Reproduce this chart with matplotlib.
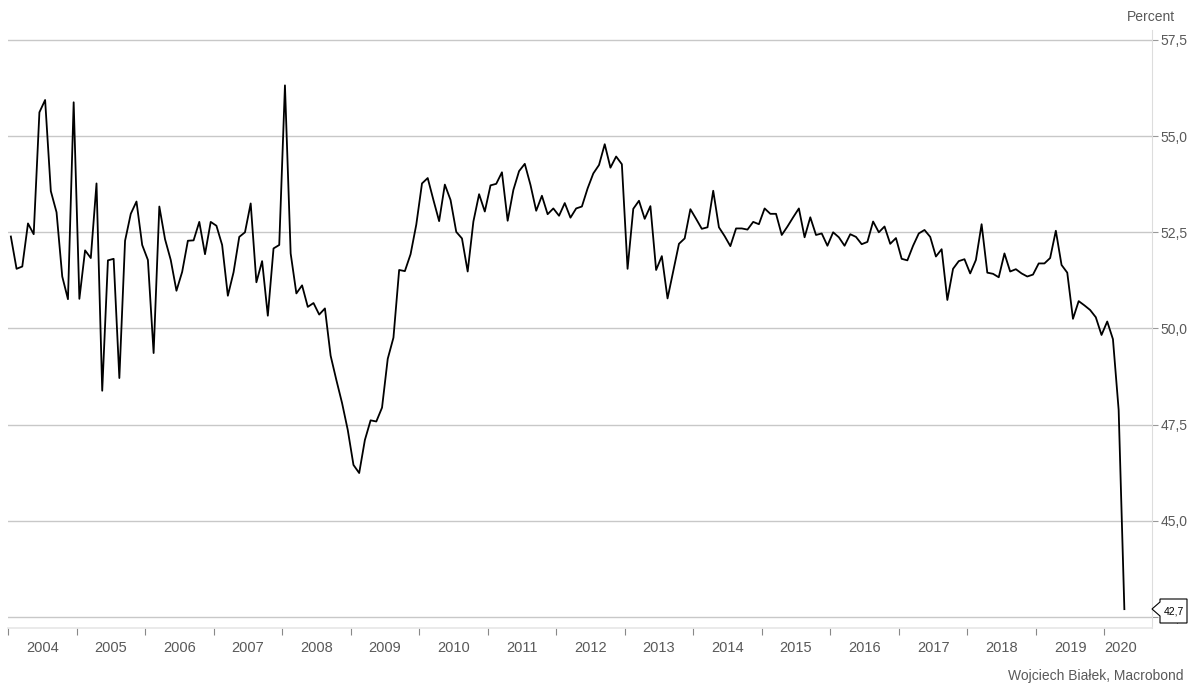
import matplotlib
matplotlib.use("Agg")
import matplotlib.pyplot as plt
from matplotlib.patches import Polygon
import numpy as np

plt.rcParams["font.family"] = ["Liberation Sans", "DejaVu Sans"]

# Monthly readings, Jan 2004 - Apr 2020
values_2004 = [52.39, 51.55, 51.61, 52.73, 52.45, 55.62, 55.94, 53.57, 53.02, 51.35, 50.76, 55.88]
values_2005 = [50.77, 52.03, 51.83, 53.77, 48.38, 51.77, 51.81, 48.71, 52.28, 52.98, 53.30, 52.17]
values_2006 = [51.78, 49.36, 53.17, 52.32, 51.78, 50.98, 51.47, 52.28, 52.29, 52.77, 51.93, 52.77]
values_2007 = [52.67, 52.17, 50.85, 51.46, 52.38, 52.50, 53.25, 51.20, 51.75, 50.33, 52.08, 52.17]
values_2008 = [56.32, 51.95, 50.91, 51.12, 50.56, 50.66, 50.36, 50.52, 49.29, 48.66, 48.06, 47.36]
values_2009 = [46.45, 46.24, 47.10, 47.61, 47.58, 47.94, 49.21, 49.76, 51.52, 51.49, 51.93, 52.70]
values_2010 = [53.77, 53.91, 53.34, 52.79, 53.74, 53.34, 52.51, 52.34, 51.48, 52.78, 53.49, 53.04]
values_2011 = [53.72, 53.76, 54.06, 52.80, 53.60, 54.09, 54.28, 53.73, 53.06, 53.45, 52.97, 53.12]
values_2012 = [52.93, 53.26, 52.88, 53.12, 53.17, 53.64, 54.03, 54.25, 54.79, 54.18, 54.47, 54.27]
values_2013 = [51.55, 53.11, 53.32, 52.85, 53.18, 51.52, 51.88, 50.78, 51.49, 52.20, 52.34, 53.10]
values_2014 = [52.85, 52.59, 52.63, 53.58, 52.63, 52.40, 52.14, 52.60, 52.60, 52.57, 52.77, 52.71]
values_2015 = [53.12, 52.98, 52.98, 52.43, 52.65, 52.89, 53.12, 52.37, 52.89, 52.43, 52.47, 52.15]
values_2016 = [52.50, 52.37, 52.15, 52.45, 52.38, 52.19, 52.25, 52.78, 52.50, 52.65, 52.20, 52.35]
values_2017 = [51.81, 51.77, 52.15, 52.47, 52.56, 52.38, 51.87, 52.06, 50.74, 51.55, 51.75, 51.80]
values_2018 = [51.43, 51.78, 52.71, 51.45, 51.42, 51.33, 51.95, 51.48, 51.54, 51.43, 51.35, 51.40]
values_2019 = [51.69, 51.69, 51.83, 52.54, 51.65, 51.45, 50.25, 50.71, 50.60, 50.48, 50.29, 49.83]
values_2020 = [50.18, 49.72, 47.88, 42.70]

years = list(range(2004, 2021))
y_ticks = [42.5, 45.0, 47.5, 50.0, 52.5, 55.0, 57.5]

values = (values_2004 + values_2005 + values_2006 + values_2007 + values_2008
          + values_2009 + values_2010 + values_2011 + values_2012 + values_2013
          + values_2014 + values_2015 + values_2016 + values_2017 + values_2018
          + values_2019 + values_2020)
# month centres as decimal years
dates = 2004 + (np.arange(len(values)) + 0.5) / 12.0

W, H = 1195, 686
fig = plt.figure(figsize=(W / 100, H / 100), dpi=100)
ax = fig.add_axes([8 / W, 1 - 628 / H, (1152 - 8) / W, (628 - 30) / H])

grey = "#c8c8c8"
text_grey = "#595959"

ax.plot(dates, values, color="black", linewidth=1.3, zorder=3)

ax.set_xlim(2004, 2020.695)
ax.set_ylim(42.21, 57.76)

# y axis on the right, comma decimals
ax.yaxis.tick_right()
ax.set_yticks(y_ticks)
ax.set_yticklabels([f"{t:.1f}".replace(".", ",") for t in y_ticks])
ax.tick_params(axis="y", length=4, width=0.8, color="#999999", labelcolor=text_grey,
               labelsize=10, pad=2)
ax.grid(axis="y", color=grey, linewidth=1.0, zorder=1)

# year boundaries as ticks, labels centred on the year
ax.set_xticks(years)
ax.set_xticklabels([])
ax.tick_params(axis="x", which="major", length=5, width=0.8, color="#888888", direction="out")
label_pos = [y + 0.5 for y in years[:-1]] + [2020.23]
ax.set_xticks(label_pos, minor=True)
ax.set_xticklabels([str(y) for y in years], minor=True)
ax.tick_params(axis="x", which="minor", length=0, labelsize=10.5, labelcolor=text_grey, pad=9)

for side in ["top", "left"]:
    ax.spines[side].set_visible(False)
ax.spines["right"].set_color("#dddddd")
ax.spines["bottom"].set_color("#e6e6e6")
ax.spines["bottom"].set_linewidth(1.2)

fig.text(1151 / W, 1 - 17 / H, "Percent", ha="center", va="center", fontsize=10, color=text_grey)
fig.text(1184 / W, 1 - 676 / H, "Wojciech Białek, Macrobond", ha="right", va="center",
         fontsize=10, color=text_grey)

# last value tag
tag = [(1152, 609), (1160, 602), (1160, 599), (1187, 599), (1187, 623), (1160, 623), (1160, 616)]
fig.patches.append(Polygon([(x / W, 1 - y / H) for x, y in tag], closed=True,
                           transform=fig.transFigure, facecolor="white",
                           edgecolor="black", linewidth=0.8, zorder=5))
fig.text(1173.5 / W, 1 - 611 / H, f"{values[-1]:.1f}".replace(".", ","), ha="center",
         va="center", fontsize=7.5, color="black", zorder=6)

fig.savefig("out.png", dpi=100)
